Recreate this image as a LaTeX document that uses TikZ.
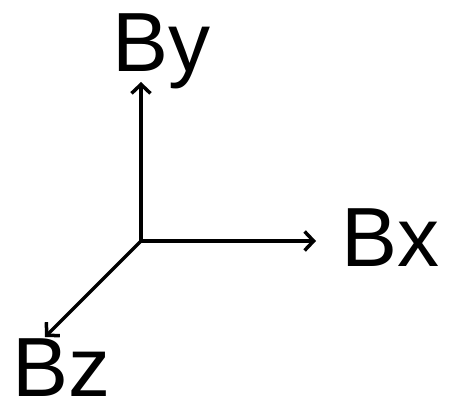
\documentclass[tikz,border=0pt]{standalone}
\usepackage{fontspec}
\setmainfont{Liberation Sans}
\usetikzlibrary{arrows.meta}
\begin{document}
\begin{tikzpicture}[x=1pt,y=-1pt,
  axis/.style={line width=3.5pt,-{Straight Barb[length=9pt,width=19pt,line width=3.5pt]}},
  axlabel/.style={anchor=base west,inner sep=0pt,font=\fontsize{84}{84}\selectfont}]
  \useasboundingbox (0,0) rectangle (450,406);
  % origin and axis ends
  \coordinate (O) at (141,241);
  \coordinate (Y) at (141,82);
  \coordinate (X) at (316,241);
  \coordinate (Z) at (45,337);
  \draw[axis] (O) -- (Y);
  \draw[axis] (O) -- (X);
  \draw[axis] (O) -- (Z);
  % axis labels
  \node[axlabel] (ly) at (112,72) {By};
  \node[axlabel] (lx) at (341,266) {Bx};
  \node[axlabel] (lz) at (12,396) {Bz};
\end{tikzpicture}
\end{document}
